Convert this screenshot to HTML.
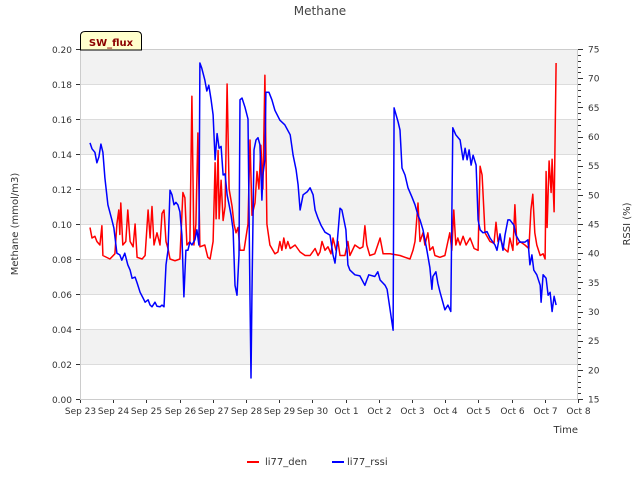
<!DOCTYPE html>
<html><head><meta charset="utf-8"><style>
body{margin:0;background:#fff;}
svg{display:block;font-family:"DejaVu Sans","Liberation Sans",sans-serif;}
</style></head><body>
<svg id="chart" width="640" height="480" viewBox="0 0 640 480">
<text x="320" y="15" text-anchor="middle" font-size="12" fill="#444">Methane</text>
<g id="bands"></g><g id="grid"></g><g id="axes"></g><g id="series"></g>
<g>
<path d="M80.5,50 L80.5,36 Q80.5,31.5 85,31.5 L137,31.5 Q141.5,31.5 141.5,36 L141.5,50 Z" fill="#ffffcc" stroke="#000" stroke-width="1"/>
<text x="111" y="46" text-anchor="middle" font-size="10" font-weight="bold" fill="#8b0000">SW_flux</text>
</g>
<text transform="translate(18,224) rotate(-90)" text-anchor="middle" font-size="10" fill="#333">Methane (mmol/m3)</text>
<text transform="translate(630,224) rotate(-90)" text-anchor="middle" font-size="10" fill="#333">RSSI (%)</text>
<text x="578" y="433" text-anchor="end" font-size="10" fill="#333">Time</text>
<g>
<g><line x1="247" y1="462" x2="259" y2="462" stroke="#f00" stroke-width="2"/><text x="265" y="465" font-size="10" fill="#333">li77_den</text></g>
<g><line x1="332" y1="462" x2="344" y2="462" stroke="#00f" stroke-width="2"/><text x="347" y="465" font-size="10" fill="#333">li77_rssi</text></g>
</g>
</svg>
<script>
const xTickLabels=["Sep 23","Sep 24","Sep 25","Sep 26","Sep 27","Sep 28","Sep 29","Sep 30","Oct 1","Oct 2","Oct 3","Oct 4","Oct 5","Oct 6","Oct 7","Oct 8"];
const yTicks=[0,0.02,0.04,0.06,0.08,0.10,0.12,0.14,0.16,0.18,0.20];
const y2Ticks=[15,20,25,30,35,40,45,50,55,60,65,70,75];
const denDays=[.30,.36,.45,.51,.60,.66,.69,.90,1.05,1.11,1.17,1.20,1.23,1.29,1.38,1.44,1.51,1.60,1.66,1.72,1.87,1.96,2.05,2.11,2.17,2.23,2.32,2.41,2.47,2.53,2.59,2.65,2.71,2.86,3.01,3.10,3.16,3.22,3.31,3.37,3.43,3.49,3.55,3.61,3.76,3.85,3.92,4.01,4.07,4.10,4.16,4.19,4.25,4.31,4.37,4.43,4.49,4.58,4.64,4.70,4.76,4.82,4.94,5.06,5.12,5.18,5.27,5.33,5.39,5.45,5.51,5.57,5.63,5.72,5.87,5.96,6.02,6.08,6.14,6.20,6.26,6.33,6.48,6.63,6.78,6.93,7.08,7.17,7.23,7.29,7.38,7.47,7.56,7.62,7.71,7.77,7.83,7.98,8.07,8.13,8.28,8.43,8.52,8.58,8.64,8.73,8.88,9.04,9.13,9.34,9.64,9.79,9.94,10.03,10.09,10.18,10.24,10.33,10.39,10.48,10.54,10.63,10.69,10.84,10.99,11.08,11.14,11.20,11.26,11.32,11.38,11.45,11.54,11.63,11.75,11.87,11.99,12.05,12.11,12.20,12.35,12.47,12.53,12.59,12.65,12.77,12.89,12.95,13.04,13.10,13.16,13.25,13.40,13.52,13.58,13.64,13.70,13.76,13.86,13.95,14.01,14.04,14.07,14.13,14.19,14.22,14.28,14.34];
const denVals=[.098,.092,.093,.090,.088,.099,.082,.080,.083,.100,.108,.094,.112,.088,.090,.108,.090,.087,.100,.081,.080,.082,.108,.092,.110,.088,.095,.088,.106,.108,.090,.086,.080,.079,.080,.118,.115,.088,.090,.173,.088,.100,.152,.087,.088,.081,.080,.090,.135,.103,.142,.103,.125,.102,.110,.180,.120,.110,.100,.095,.098,.085,.085,.100,.148,.105,.112,.130,.120,.145,.120,.185,.100,.088,.083,.084,.090,.085,.092,.086,.090,.086,.088,.084,.082,.082,.086,.082,.084,.090,.085,.087,.083,.092,.085,.090,.082,.082,.090,.082,.088,.086,.087,.099,.088,.082,.083,.092,.083,.083,.082,.081,.080,.085,.090,.112,.090,.095,.088,.095,.085,.087,.082,.081,.082,.090,.095,.085,.108,.088,.092,.088,.093,.088,.092,.086,.085,.133,.128,.095,.090,.089,.101,.090,.092,.086,.084,.092,.085,.111,.088,.090,.088,.086,.108,.117,.095,.088,.082,.083,.080,.130,.098,.136,.118,.137,.107,.192];
const rssiDays=[.30,.36,.45,.51,.57,.63,.69,.75,.84,.96,1.02,1.11,1.20,1.26,1.35,1.44,1.51,1.57,1.66,1.72,1.81,1.90,1.96,2.05,2.11,2.17,2.26,2.32,2.41,2.47,2.53,2.59,2.65,2.71,2.77,2.83,2.89,2.95,3.01,3.07,3.13,3.19,3.25,3.31,3.37,3.46,3.52,3.58,3.61,3.67,3.76,3.82,3.88,3.95,4.01,4.07,4.13,4.19,4.25,4.31,4.37,4.43,4.49,4.55,4.61,4.67,4.73,4.79,4.82,4.88,4.97,5.06,5.12,5.15,5.18,5.24,5.30,5.36,5.42,5.48,5.51,5.57,5.60,5.69,5.78,5.87,6.02,6.17,6.33,6.42,6.51,6.57,6.63,6.72,6.84,6.93,7.02,7.08,7.17,7.26,7.38,7.53,7.62,7.68,7.74,7.83,7.89,7.95,8.01,8.07,8.13,8.28,8.43,8.58,8.64,8.70,8.88,8.97,9.04,9.19,9.25,9.34,9.43,9.46,9.52,9.58,9.64,9.70,9.79,9.88,10.00,10.09,10.18,10.24,10.33,10.45,10.54,10.60,10.63,10.72,10.78,10.84,10.99,11.08,11.17,11.23,11.32,11.45,11.54,11.60,11.66,11.72,11.78,11.84,11.93,11.99,12.05,12.14,12.26,12.35,12.50,12.56,12.65,12.74,12.80,12.89,12.95,13.07,13.13,13.25,13.40,13.49,13.55,13.61,13.67,13.76,13.86,13.89,13.95,14.04,14.10,14.16,14.22,14.28,14.34];
const rssiVals=[58.9,57.9,57.3,55.5,56.5,58.7,57.3,52.9,48.3,45.7,44.3,40.0,39.7,38.8,40.0,38.0,37.1,35.7,35.9,34.9,33.3,32.3,31.6,32.0,31.1,30.8,31.6,30.9,30.8,31.1,30.8,38.0,40.5,50.8,50.0,48.3,48.7,48.3,47.1,43.1,32.5,40.5,40.5,41.9,41.4,42.3,44.0,41.4,72.6,71.7,69.7,67.8,68.8,66.3,63.7,56.0,60.5,58.0,58.3,53.4,53.6,50.0,48.3,46.5,44.0,34.5,32.8,39.7,66.3,66.6,65.0,63.0,32.0,18.6,33.7,57.7,59.4,59.8,58.6,49.1,53.4,56.0,67.6,67.6,66.3,64.5,62.8,62.0,60.3,56.8,54.3,51.7,47.4,50.0,50.5,51.2,50.0,47.4,46.0,44.8,43.6,43.1,39.7,38.3,41.4,47.7,47.4,45.7,44.0,38.0,37.1,36.3,36.1,34.5,35.4,36.3,36.0,36.8,35.4,34.5,33.8,30.3,26.8,64.9,63.7,62.5,61.1,54.6,53.4,51.2,49.6,48.3,46.5,45.7,44.0,40.5,37.5,33.8,36.0,36.8,34.8,33.4,30.3,31.1,30.0,61.5,60.3,59.4,56.0,58.0,56.0,57.7,55.1,56.8,55.1,45.7,44.0,43.5,43.7,42.6,41.4,40.5,43.3,40.5,43.1,45.7,45.7,44.8,43.1,41.9,41.9,42.3,38.0,39.7,37.1,36.3,34.5,31.6,36.3,35.7,32.8,33.3,30.0,32.6,31.1];

const NS="http://www.w3.org/2000/svg";
const L=80,R=578,T=49,B=399;
const xS=d=>L+(R-L)*d/15;
const yS=v=>B-(B-T)*v/0.2;
const y2S=v=>B-(B-T)*(v-15)/60;
function mk(tag,attrs,parent){const e=document.createElementNS(NS,tag);for(const k in attrs)e.setAttribute(k,attrs[k]);parent.appendChild(e);return e;}
const bands=document.getElementById('bands'),grid=document.getElementById('grid'),axes=document.getElementById('axes'),series=document.getElementById('series');
for(let i=0;i<yTicks.length-1;i++){
  if(i%2===1){const r=mk('rect',{x:L,y:yS(yTicks[i+1]),width:R-L,height:yS(yTicks[i])-yS(yTicks[i+1]),fill:'#f2f2f2'},bands);
  
  }
}
yTicks.forEach(v=>{
  const y=Math.round(yS(v))+0.5;
  const g=mk('line',{x1:L,x2:R,y1:y,y2:y,stroke:'#dcdcdc','stroke-width':1},grid);
  
  
  mk('line',{x1:L-4,x2:L,y1:y,y2:y,stroke:'#333'},axes);
  const t=mk('text',{x:L-8,y:y+3.5,'text-anchor':'end','font-size':9,fill:'#333'},axes);
  t.textContent=v.toFixed(2);
  
  
});
for(let v=15;v<=75;v++){
  const y=Math.round(y2S(v))+0.5;
  const major=v%5===0;
  mk('line',{x1:R,x2:R+(major?5:3),y1:y,y2:y,stroke:'#333'},axes);
}
y2Ticks.forEach(v=>{
  const t=mk('text',{x:R+10,y:y2S(v)+3.5,'font-size':9,fill:'#333'},axes);
  t.textContent=v;
  
  
});
xTickLabels.forEach((s,i)=>{
  const x=Math.round(xS(i))+0.5;
  mk('line',{x1:x,x2:x,y1:B,y2:B+4,stroke:'#333'},axes);
  const t=mk('text',{x:x,y:B+15,'text-anchor':'middle','font-size':9,fill:'#333'},axes);
  t.textContent=s;
  
  
});
mk('rect',{x:L+0.5,y:T+0.5,width:R-L-1,height:B-T,fill:'none',stroke:'#ccc'},axes);
const pd=denDays.map((d,i)=>xS(d).toFixed(1)+','+yS(denVals[i]).toFixed(1)).join(' ');
const den=mk('polyline',{points:pd,fill:'none',stroke:'#f00','stroke-width':1.5,'stroke-linejoin':'round'},series);


const pr=rssiDays.map((d,i)=>xS(d).toFixed(1)+','+y2S(rssiVals[i]).toFixed(1)).join(' ');
const rs=mk('polyline',{points:pr,fill:'none',stroke:'#00f','stroke-width':1.5,'stroke-linejoin':'round'},series);


</script>
</body></html>
